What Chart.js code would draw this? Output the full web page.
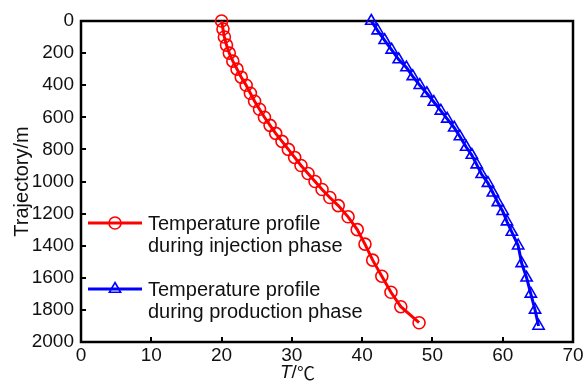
<!DOCTYPE html>
<html>
<head>
<meta charset="utf-8">
<script src="https://cdn.jsdelivr.net/npm/chart.js@4.4.0/dist/chart.umd.min.js"></script>
<style>
  html, body { margin: 0; padding: 0; background: #fff; }
</style>
</head>
<body>
<canvas id="myChart" width="586" height="384"></canvas>
<script>
// Values: depth in m, temperature in C
var injDepth = [0, 50, 100, 150, 200, 250, 300, 350, 400, 450, 500, 550, 600, 650, 700, 750, 800, 850, 900, 950, 1000, 1050, 1100, 1150, 1220, 1300, 1390, 1490, 1590, 1690, 1780, 1880];
var injTemp = [20.0, 20.2, 20.4, 20.7, 21.1, 21.6, 22.2, 22.8, 23.5, 24.1, 24.7, 25.4, 26.1, 26.9, 27.7, 28.6, 29.5, 30.4, 31.3, 32.3, 33.3, 34.3, 35.4, 36.6, 38.0, 39.3, 40.4, 41.5, 42.8, 44.1, 45.5, 48.1];

var prodDepth = [0, 60, 120, 180, 240, 290, 345, 400, 450, 505, 560, 610, 665, 720, 785, 835, 895, 955, 1010, 1070, 1130, 1185, 1250, 1315, 1400, 1510, 1600, 1700, 1800, 1900];
var prodTemp = [41.3, 42.2, 43.2, 44.2, 45.2, 46.3, 47.2, 48.2, 49.2, 50.2, 51.2, 52.1, 53.1, 53.9, 54.8, 55.6, 56.3, 57.0, 57.9, 58.6, 59.3, 60.0, 60.6, 61.3, 62.2, 62.7, 63.4, 64.0, 64.6, 65.1];

var xTicks = [0, 10, 20, 30, 40, 50, 60, 70];
var yTicks = [0, 200, 400, 600, 800, 1000, 1200, 1400, 1600, 1800, 2000];

var legendLines = [
    ['Temperature profile', 'during injection phase'],
    ['Temperature profile', 'during production phase']
];

var FONT = '"Liberation Sans", Arial, sans-serif';
var TXT = '#111111';

function toPoints(xs, ys) {
    var out = [];
    for (var i = 0; i < xs.length; i++) out.push({ x: xs[i], y: ys[i] });
    return out;
}

function drawMarker(ctx, style, x, y, r, color) {
    ctx.strokeStyle = color;
    ctx.lineWidth = 1.6;
    ctx.beginPath();
    if (style === 'circle') {
        ctx.arc(x, y, r, 0, Math.PI * 2);
    } else {
        var a = 0;
        ctx.moveTo(x + Math.sin(a) * r, y - Math.cos(a) * r);
        a += Math.PI * 2 / 3;
        ctx.lineTo(x + Math.sin(a) * r, y - Math.cos(a) * r);
        a += Math.PI * 2 / 3;
        ctx.lineTo(x + Math.sin(a) * r, y - Math.cos(a) * r);
        ctx.closePath();
    }
    ctx.stroke();
}

// box, inward ticks, axis titles and the legend
var extras = {
    id: 'extras',
    beforeDatasetsDraw: function(chart) {
        var ctx = chart.ctx, a = chart.chartArea;
        var xs = chart.scales.x, ys = chart.scales.y;
        ctx.save();
        ctx.strokeStyle = '#000';
        ctx.lineWidth = 2.5;
        ctx.strokeRect(a.left, a.top, a.right - a.left, a.bottom - a.top);
        ctx.lineWidth = 2;
        ctx.beginPath();
        xTicks.forEach(function(v) {
            var px = Math.round(xs.getPixelForValue(v));
            ctx.moveTo(px, a.bottom);
            ctx.lineTo(px, a.bottom - 5);
        });
        yTicks.forEach(function(v) {
            var py = Math.round(ys.getPixelForValue(v));
            ctx.moveTo(a.left, py);
            ctx.lineTo(a.left + 5, py);
        });
        ctx.stroke();
        ctx.restore();
    },
    afterDraw: function(chart) {
        var ctx = chart.ctx, a = chart.chartArea;
        ctx.save();
        ctx.fillStyle = TXT;

        // x title: T/℃
        ctx.textBaseline = 'middle';
        ctx.textAlign = 'left';
        ctx.font = 'italic 19px ' + FONT;
        var wT = ctx.measureText('T').width;
        ctx.font = '19px ' + FONT;
        var wS = ctx.measureText('/').width;
        var x0 = 280;
        ctx.font = 'italic 19px ' + FONT;
        ctx.fillText('T', x0, 373);
        ctx.font = '19px ' + FONT;
        ctx.fillText('/', x0 + wT, 373);
        ctx.font = '18px "Noto Sans CJK SC", "DejaVu Sans", sans-serif';
        ctx.fillText('℃', x0 + wT + wS, 373);

        // y title
        ctx.save();
        ctx.translate(22, (a.top + a.bottom) / 2);
        ctx.rotate(-Math.PI / 2);
        ctx.textAlign = 'center';
        ctx.font = '20px ' + FONT;
        ctx.fillText('Trajectory/m', 0, 0);
        ctx.restore();

        // legend
        var rows = [
            { y: 223, color: '#ff0000', style: 'circle', r: 6 },
            { y: 289, color: '#0000ff', style: 'triangle', r: 6.5 }
        ];
        rows.forEach(function(row, i) {
            ctx.strokeStyle = row.color;
            ctx.lineWidth = 3;
            ctx.beginPath();
            ctx.moveTo(88, row.y);
            ctx.lineTo(142, row.y);
            ctx.stroke();
            drawMarker(ctx, row.style, 115, row.y, row.r, row.color);
            ctx.fillStyle = TXT;
            ctx.font = '20px ' + FONT;
            ctx.textAlign = 'left';
            ctx.textBaseline = 'middle';
            ctx.fillText(legendLines[i][0], 148, row.y + 1);
            ctx.fillText(legendLines[i][1], 148, row.y + 23);
        });
        ctx.restore();
    }
};

window.addEventListener('load', function() {
    var ctx = document.getElementById('myChart').getContext('2d');
    var myChart = new Chart(ctx, {
        type: 'scatter',
        data: {
            datasets: [{
                label: 'injection',
                data: toPoints(injTemp, injDepth),
                showLine: true,
                borderColor: '#ff0000',
                borderWidth: 3,
                pointStyle: 'circle',
                pointRadius: 6,
                pointBorderWidth: 1.6,
                pointBorderColor: '#ff0000',
                pointBackgroundColor: 'rgba(0,0,0,0)',
                clip: false
            }, {
                label: 'production',
                data: toPoints(prodTemp, prodDepth),
                showLine: true,
                borderColor: '#0000ff',
                borderWidth: 3,
                pointStyle: 'triangle',
                pointRadius: 6.5,
                pointBorderWidth: 1.6,
                pointBorderColor: '#0000ff',
                pointBackgroundColor: 'rgba(0,0,0,0)',
                clip: false
            }]
        },
        options: {
            responsive: false,
            animation: false,
            layout: { padding: { top: 21, right: 13, left: 0, bottom: 0 } },
            plugins: { legend: { display: false }, tooltip: { enabled: false } },
            scales: {
                x: {
                    type: 'linear',
                    position: 'bottom',
                    min: 0,
                    max: 70,
                    afterBuildTicks: function(s) { s.ticks = xTicks.map(function(v) { return { value: v }; }); },
                    afterFit: function(s) { s.height = 42; },
                    grid: { display: false, drawTicks: false },
                    border: { display: false },
                    ticks: {
                        color: TXT, font: { family: FONT, size: 19 }, padding: 2, maxRotation: 0,
                        callback: function(v) { return String(v); }
                    }
                },
                y: {
                    type: 'linear',
                    reverse: true,
                    min: 0,
                    max: 2000,
                    afterBuildTicks: function(s) { s.ticks = yTicks.map(function(v) { return { value: v }; }); },
                    afterFit: function(s) { s.width = 81; },
                    grid: { display: false, drawTicks: false },
                    border: { display: false },
                    ticks: {
                        color: TXT, font: { family: FONT, size: 19 }, padding: 7,
                        callback: function(v) { return String(v); }
                    }
                }
            }
        },
        plugins: [extras]
    });
});
</script>
</body>
</html>
